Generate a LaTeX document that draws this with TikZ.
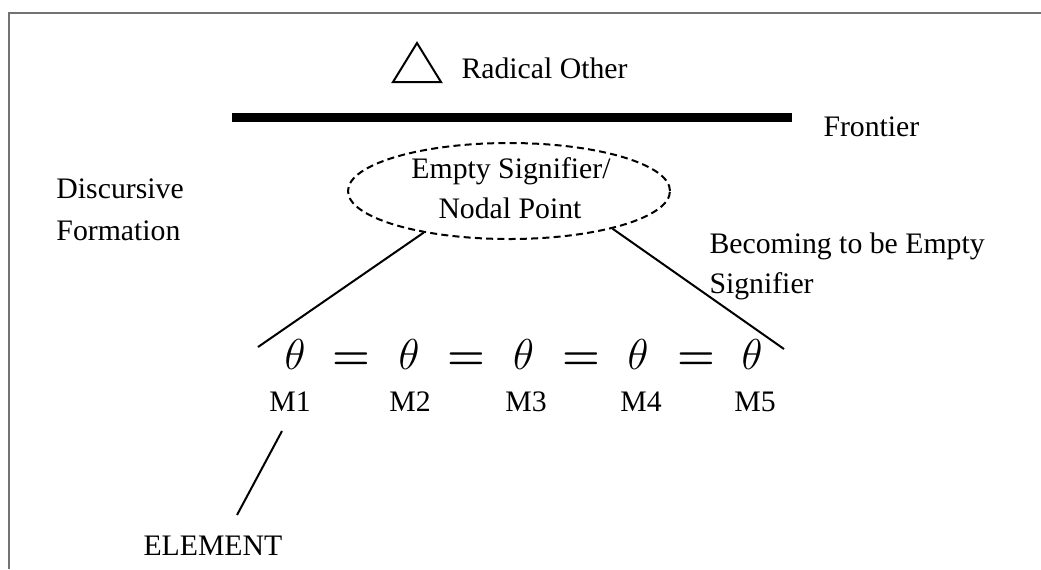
\documentclass[tikz,border=0pt]{standalone}
\usepackage{fontspec}
\setmainfont{Liberation Serif}
\usetikzlibrary{shapes.geometric}
\begin{document}
\begin{tikzpicture}[x=0.4pt,y=-0.4pt,
  txt/.style={inner sep=0pt, anchor=base west, font=\fontsize{11.9}{14}\selectfont},
  ctxt/.style={inner sep=0pt, anchor=base, font=\fontsize{11.9}{14}\selectfont},
  mth/.style={inner sep=0pt, anchor=base, font=\fontsize{16}{19}\selectfont},
  bmth/.style={inner sep=0pt, anchor=base, font=\fontsize{16}{19}\selectfont\boldmath},
  conn/.style={line width=0.8pt},
  framel/.style={line width=0.8pt, draw=black!55},
  nodal/.style={ellipse, draw, line width=0.8pt, dash pattern=on 2.8pt off 1.7pt,
    minimum width=128.8pt, minimum height=38.4pt, inner sep=0pt}]
\useasboundingbox (0,0) rectangle (1041,569);
\fill[white] (0,0) rectangle (1041,569);
% frame
\draw[framel] (1041,13) -- (9,13) -- (9,569);
% radical other
\draw[line width=0.8pt, line join=miter] (417,43) -- (393,82) -- (441,82) -- cycle;
\node[txt] (radical) at (461,78) {Radical Other};
% frontier
\coordinate (fl) at (232,117.5);
\coordinate (fr) at (792,117.5);
\draw[line width=3.6pt] (fl) -- (fr);
\node[txt] (frontier) at (823,136) {Frontier};
% discursive formation
\node[txt] (disc1) at (56,198) {Discursive};
\node[txt] (disc2) at (56,240) {Formation};
% nodal point
\node[nodal] (ell) at (509,191) {};
\node[ctxt] (es) at (511,178) {Empty Signifier/};
\node[ctxt] (np) at (510,218) {Nodal Point};
% becoming
\node[txt] (bec1) at (709,253) {Becoming to be Empty};
\node[txt] (bec2) at (709,293) {Signifier};
% chain
\foreach \i/\x in {1/295,2/409,3/523.5,4/638,5/752}{
  \node[mth] (t\i) at (\x,369) {$\theta$};
}
\foreach \i/\x in {1/351,2/466,3/581,4/696}{
  \node[bmth] (eq\i) at (\x,369) {$=$};
}
\foreach \i/\x in {1/290,2/410,3/526,4/641,5/755}{
  \node[ctxt] (M\i) at (\x,411) {M\i};
}
% connectors
\coordinate (le) at (258,347);
\coordinate (re) at (784,349);
\draw[conn] (ell.-154) -- (le);
\draw[conn] (ell.-20) -- (re);
% element
\coordinate (e1) at (282,431);
\coordinate (e2) at (237,515);
\draw[conn] (e1) -- (e2);
\node[txt] (element) at (143,555) {ELEMENT};
\end{tikzpicture}
\end{document}
